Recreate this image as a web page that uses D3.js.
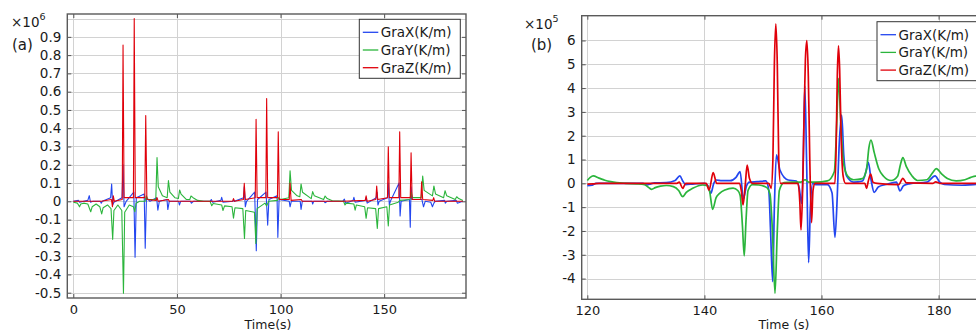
<!DOCTYPE html>
<html><head><meta charset="utf-8">
<script src="https://cdn.jsdelivr.net/npm/d3@7"></script>
<style>
body{margin:0;background:#fff}
svg{display:block}
text{font-family:"DejaVu Sans",sans-serif;fill:#1a1a1a}
</style>
</head><body>
<svg id="c" width="976" height="332"></svg>
<script>
// ---------- DATA : panel (a), values x1e6 ----------
const seriesNames = ["GraX(K/m)", "GraY(K/m)", "GraZ(K/m)"];
const aTicksX = [0, 50, 100, 150];
const aTicksY = [-0.5,-0.4,-0.3,-0.2,-0.1,0,0.1,0.2,0.3,0.4,0.5,0.6,0.7,0.8,0.9];
const aGridY = [1.0];
const aGraX = [[0,0],[2.5,0.005],[3,-0.005],[7,0.005],[7.7,0.031],[8.3,-0.005],[9.5,0],[13,0],[13.5,-0.01],[14,0],
 [18,0.02],[18.5,0.095],[19,-0.02],[19.6,-0.005],[23.5,0.02],[24,0.2],[24.5,-0.03],[25.5,0],[29.2,0.05],[29.8,-0.306],
 [30.4,0.02],[34.2,0.04],[34.7,-0.257],[35.3,0.02],[37,0],[40.2,0.02],[40.8,-0.048],[41.5,0],[45.2,0.01],[45.6,-0.045],
 [46.3,0],[50.8,0],[51.2,-0.02],[51.8,0],[56.5,0],[57,-0.01],[58,0],[66,0],[66.6,0.01],[67.2,-0.005],[71.2,0.005],
 [71.6,0.022],[72.2,-0.005],[77,0],[77.3,0.01],[77.7,0],[82.2,0.02],[82.5,0.08],[83,-0.03],[83.6,0],[87.5,0.05],[88.3,-0.27],
 [88.9,0.01],[93,0.05],[93.8,-0.13],[94.4,0.01],[98.3,0.03],[98.7,-0.197],[99.3,0.01],[104.2,0],[104.6,-0.03],[105.2,0],
 [109.5,0],[109.9,-0.044],[110.5,0],[115.2,0],[115.5,-0.015],[116,0],[121,0],[121.5,-0.008],[122.5,0],[130,0],
 [130.8,0.012],[131.4,-0.01],[135,0.005],[135.4,0.022],[136,-0.005],[140.8,0.005],[141.3,0.02],[141.8,-0.01],
 [146.2,0.02],[146.6,0.05],[147,-0.02],[147.6,0],[151.6,0.02],[152,0.1],[152.5,-0.02],[153,0],[157.2,0.1],[157.7,-0.08],
 [158.2,0],[162.2,0.01],[162.6,-0.142],[163,0.08],[163.5,0.01],[168.2,0.01],[169,-0.03],[169.8,0],[172.5,-0.005],
 [173.3,-0.03],[174,-0.01],[174.6,0],[179.2,0.005],[179.5,-0.01],[180.2,0],[184.8,0.005],[185.3,-0.01],[188,0]];
const aGraY = [[0,-0.005],[2,-0.01],[3,-0.03],[3.6,-0.015],[5,-0.01],[7,-0.015],[8.4,-0.057],[9.1,-0.03],[11,-0.015],
 [12.8,-0.03],[13.7,-0.069],[14.4,-0.035],[16.5,-0.02],[18.2,-0.04],[19,-0.208],[19.6,-0.05],[21.5,-0.02],[23.4,-0.05],
 [24.2,-0.503],[24.8,-0.06],[27,-0.02],[29,-0.03],[29.7,-0.057],[30.3,-0.01],[32,0],[34.6,0],[35.2,0.03],[36,0.01],
 [39.8,0.01],[40.4,0.24],[41,0.08],[43,0.03],[45.3,0.02],[45.9,0.113],[46.6,0.05],[49,0.02],[50.7,0.015],[51.3,0.062],
 [52,0.04],[54.5,0.01],[56.2,0.01],[56.8,0.029],[57.8,0.02],[60,0.005],[63,0],[66,0],[66.8,-0.024],[67.5,-0.012],
 [71.6,-0.02],[72.2,-0.05],[73,-0.025],[76.6,-0.03],[77.3,-0.092],[78,-0.035],[81.8,-0.04],[82.6,-0.203],[83.2,-0.05],
 [87.4,-0.06],[88.1,-0.23],[88.7,-0.04],[92.5,-0.01],[93.3,-0.025],[94.3,0],[98.5,0.005],[99,0.02],[100,0.01],[104,0.02],
 [104.6,0.167],[105.3,0.06],[108,0.03],[109.3,0.025],[109.9,0.095],[110.6,0.05],[114.8,0.015],[115.5,0.053],[116.3,0.03],
 [120.8,0.01],[121.5,0.029],[122.5,0.015],[125,0.003],[130.4,0],[131.1,-0.02],[131.8,-0.01],[135.4,-0.015],[136,-0.048],
 [136.6,-0.02],[140.6,-0.03],[141.3,-0.093],[142,-0.035],[145.9,-0.04],[146.7,-0.148],[147.3,-0.04],[151.3,-0.03],
 [152,-0.135],[152.6,-0.02],[156.8,-0.005],[157.5,0.005],[162.5,0.01],[163,0.05],[163.6,0.02],[167.9,0.02],[168.6,0.138],
 [169.3,0.06],[173.3,0.03],[174,0.084],[174.8,0.04],[178.7,0.02],[179.4,0.058],[180.2,0.03],[184.3,0.01],[185,0.025],
 [186,0.015],[188,0.005]];
const aGraZ = [[0,0],[13.5,0],[18.4,0.01],[18.9,-0.03],[19.3,0.03],[19.8,0],[23.6,0.01],[24,0.855],[24.5,0.02],[29,0.02],
 [29.4,1.0],[29.9,0.02],[34.5,0.02],[34.95,0.47],[35.5,0.01],[40,0.005],[40.4,0.02],[41,0],[45.9,0.01],[46.3,0],[66.5,0],
 [76.9,0],[77.3,0.015],[77.8,0],[82.1,0.01],[82.5,0.098],[83,0.01],[87.8,0.02],[88.2,0.449],[88.7,0.02],[92.9,0.02],
 [93.3,0.563],[93.8,0.02],[98.5,0.02],[98.9,0.381],[99.4,0.01],[104.2,0.01],[104.6,0.1],[105.1,0.005],[110,0.01],
 [110.5,0],[130,0],[140.9,0.005],[141.3,0.03],[141.8,0],[146,0.01],[146.4,0.084],[146.9,0.01],[151.6,0.02],[152,0.299],
 [152.5,0.02],[157.1,0.02],[157.5,0.381],[158,0.02],[162.6,0.02],[163,0.266],[163.5,0.01],[167.7,0.01],[168.1,0.107],
 [168.6,0.01],[173.5,0.005],[173.9,0.02],[174.4,0],[188,0]];

// ---------- DATA : panel (b), values x1e5 ----------
const bTicksX = [120, 140, 160, 180];
const bTicksY = [-4,-3,-2,-1,0,1,2,3,4,5,6];
const bGraX = [[120,-0.1],[120.8,-0.08],[121.5,0],[129.5,0],[130.2,-0.07],[130.8,-0.02],[131.5,0.02],[133.5,0.03],
 [135,0.12],[135.8,0.31],[136.3,0.1],[136.8,-0.05],[138,-0.03],[140,0],[140.6,-0.1],[141.1,-0.42],[141.6,0],[142,0.14],
 [143,0.11],[144.4,0.11],[145.4,0.25],[146.1,0.49],[146.65,-0.65],[147.2,-0.1],[147.7,0.05],[149,0.07],[150.5,0.1],
 [151,-0.3],[151.3,-2.0],[151.66,-4.13],[151.95,-1.0],[152.3,1.2],[152.9,0.56],[154.3,0.14],[155.7,0.1],[156.2,-0.2],
 [156.6,-0.84],[156.85,0.5],[157.15,4.1],[157.45,1.0],[157.8,-3.33],[158.1,-1.0],[158.5,0],[159,-0.05],[161,-0.05],
 [161.8,-0.4],[162.3,-2.27],[162.7,-0.5],[163,1.5],[163.45,2.87],[163.8,1.2],[164.3,0.3],[165.5,0.05],[167,0.1],
 [167.6,0.5],[168,0.88],[168.5,0.1],[169,-0.38],[169.7,-0.15],[171,-0.05],[172.8,0.05],[173.4,-0.32],[174,-0.1],
 [175,-0.02],[178,0.05],[179.4,0.31],[180.2,0.05],[181,-0.05],[184,-0.08],[186,-0.05],[188.5,-0.02]];
const bGraY = [[120,0.12],[120.5,0.25],[121,0.31],[122,0.22],[123,0.13],[124,0.07],[125,0.03],[126.5,0],[128.5,-0.02],
 [129.8,-0.06],[130.5,-0.18],[131,-0.25],[131.6,-0.18],[132.5,-0.12],[133.5,-0.09],[134.7,-0.14],[135.6,-0.3],
 [136.3,-0.56],[136.9,-0.38],[138,-0.21],[139.7,-0.07],[140.5,-0.1],[140.9,-0.35],[141.4,-1.09],[142,-0.6],[142.6,-0.42],
 [143.5,-0.28],[144.9,-0.2],[145.7,-0.3],[146.1,-0.5],[146.5,-1.8],[146.8,-3.05],[147.1,-1.6],[147.45,-0.3],
 [148.2,-0.05],[149.3,-0.07],[150.6,-0.17],[151.2,-0.45],[151.6,-1.9],[152.06,-4.62],[152.45,-2.0],[152.8,-0.3],
 [153.6,0.03],[155,0.05],[156.5,0.05],[157.2,0.15],[157.8,0.05],[159,0.05],[161,0.1],[162.2,0.5],[162.6,2.5],[162.9,4.41],
 [163.3,2.5],[163.8,0.8],[164.5,0.3],[165.5,0.15],[167,0.2],[167.7,0.6],[168.1,1.5],[168.45,1.82],[169,1.3],[169.8,0.6],
 [170.6,0.3],[171.9,0.12],[173,0.3],[173.5,0.8],[173.9,1.08],[174.5,0.7],[175.5,0.3],[176.4,0.12],[178,0.15],[179,0.45],
 [179.6,0.62],[180.5,0.4],[181.5,0.2],[183,0.1],[184.5,0.15],[185.5,0.25],[186.3,0.3],[187.5,0.2],[188.5,0.1]];
const bGraZ = [[120,-0.03],[121,-0.02],[122,0],[135.3,0],[135.7,0.05],[136.3,-0.21],[136.8,0],[140.3,0],[140.8,-0.28],
 [141.5,0.45],[142.1,0],[146,0],[146.3,-0.3],[146.6,-0.91],[147,0],[147.3,0.77],[147.7,0.2],[148.2,0],[151,0],
 [151.4,-0.21],[151.7,1.0],[151.95,5.0],[152.2,6.7],[152.45,5.0],[152.7,1.0],[153,0],[156,0],[156.3,-0.8],[156.5,-1.96],
 [156.75,-0.5],[157,2.5],[157.25,5.2],[157.5,5.99],[157.75,4.5],[158,1.0],[158.3,-1.65],[158.55,-0.3],[158.9,0],
 [162.3,0],[162.5,1.5],[162.7,4.5],[162.9,5.77],[163.1,4.8],[163.35,2.0],[163.7,0.3],[164.1,0],[167.4,0],[167.7,-0.21],
 [168,0.1],[168.4,0.39],[168.8,0.05],[169.5,0],[173.2,-0.05],[173.9,0.21],[174.5,0.02],[179,0],[179.5,0.06],[180.2,0],
 [188.5,0]];

const colors = ["#2346f0", "#2bb53c", "#e0000a"];

// ---------- DRAW ----------
const svg = d3.select("#c");

function drawPanel(cfg) {
  const g = svg.append("g");
  const x = d3.scaleLinear().domain(cfg.xDomain).range([cfg.left, cfg.right]);
  const y = d3.scaleLinear().domain(cfg.yDomain).range([cfg.bottom, cfg.top]);
  const clipId = "clip" + cfg.id;
  svg.append("clipPath").attr("id", clipId).append("rect")
    .attr("x", cfg.left).attr("y", cfg.top).attr("width", cfg.right - cfg.left).attr("height", cfg.bottom - cfg.top);

  // grid
  g.append("g").selectAll("line").data(cfg.ticksY.concat(cfg.gridY || [])).join("line")
    .attr("x1", cfg.left).attr("x2", cfg.right).attr("y1", d => Math.round(y(d)) + 0.5).attr("y2", d => Math.round(y(d)) + 0.5)
    .attr("stroke", "#d2d2d2").attr("stroke-width", 1);
  g.append("g").selectAll("line").data(cfg.ticksX).join("line")
    .attr("y1", cfg.top).attr("y2", cfg.bottom).attr("x1", d => Math.round(x(d)) + 0.5).attr("x2", d => Math.round(x(d)) + 0.5)
    .attr("stroke", "#d2d2d2").attr("stroke-width", 1);

  // axes (ticks inward, labels via d3 axis)
  const yAxis = d3.axisLeft(y).tickValues(cfg.ticksY).tickSize(-4).tickPadding(6).tickFormat(cfg.fmtY);
  const xAxis = d3.axisBottom(x).tickValues(cfg.ticksX).tickSize(-4).tickPadding(8).tickFormat(d3.format("d"));
  const ya = g.append("g").attr("transform", `translate(${cfg.left},0)`).call(yAxis);
  const xa = g.append("g").attr("transform", `translate(0,${cfg.bottom})`).call(xAxis);
  g.append("g").attr("transform", `translate(${cfg.right},0)`).call(d3.axisRight(y).tickValues(cfg.ticksY).tickSize(-4).tickFormat(""));
  g.append("g").attr("transform", `translate(0,${cfg.top})`).call(d3.axisTop(x).tickValues(cfg.ticksX).tickSize(-4).tickFormat(""));
  g.selectAll(".domain").remove();
  g.selectAll(".tick line").attr("stroke", "#555");
  ya.selectAll("text").attr("font-size", 13.5).attr("font-family", "DejaVu Sans").attr("fill", "#1a1a1a");
  xa.selectAll("text").attr("font-size", 13).attr("font-family", "DejaVu Sans").attr("fill", "#1a1a1a")
    .attr("dy", null).attr("y", 16);

  // frame
  g.append("rect").attr("x", cfg.left).attr("y", cfg.top).attr("width", cfg.right - cfg.left).attr("height", cfg.bottom - cfg.top)
    .attr("fill", "none").attr("stroke", "#5a5a5a").attr("stroke-width", 1.4);

  // lines
  const line = d3.line().x(d => x(d[0])).y(d => y(d[1])).curve(cfg.curve);
  const lg = g.append("g").attr("clip-path", `url(#${clipId})`);
  cfg.series.forEach((s, i) => {
    lg.append("path").datum(s).attr("d", line).attr("fill", "none")
      .attr("stroke", colors[i]).attr("stroke-width", cfg.lw).attr("stroke-linejoin", "round");
  });

  // exponent & panel label
  const ex = g.append("text").attr("x", cfg.expX).attr("y", cfg.expY).attr("font-size", 13.5);
  ex.append("tspan").text("×10");
  ex.append("tspan").attr("dy", -7).attr("font-size", 9.5).text(cfg.exp);
  g.append("text").attr("x", cfg.labX).attr("y", cfg.labY).attr("font-size", 15).text(cfg.label);

  // x title
  g.append("text").attr("x", cfg.titleX).attr("y", 328.8).attr("text-anchor", "middle").attr("font-size", 12.5).text(cfg.xTitle);

  // legend
  const L = g.append("g");
  L.append("rect").attr("x", cfg.legX).attr("y", cfg.legY).attr("width", 101).attr("height", 59)
    .attr("fill", "#fff").attr("stroke", "#333").attr("stroke-width", 1);
  seriesNames.forEach((n, i) => {
    const yy = cfg.legY + 13 + i * 17.7;
    L.append("line").attr("x1", cfg.legX + 3.5).attr("x2", cfg.legX + 19).attr("y1", yy).attr("y2", yy)
      .attr("stroke", colors[i]).attr("stroke-width", 1.3);
    L.append("text").attr("x", cfg.legX + 21.5).attr("y", yy).attr("dy", "0.36em").attr("font-size", 13.5).text(n);
  });
}

drawPanel({
  id: "a", left: 67.3, right: 466, top: 14, bottom: 298,
  xDomain: [-2.9, 189.5], yDomain: [-0.529, 1.025],
  ticksX: aTicksX, ticksY: aTicksY, gridY: aGridY,
  fmtY: d => (d === 0 ? "0" : d3.format(".1f")(d).replace("−", "-")),
  series: [aGraX, aGraY, aGraZ], curve: d3.curveLinear, lw: 1.1,
  exp: "6", expX: 11, expY: 27, label: "(a)", labX: 12, labY: 50,
  xTitle: "Time(s)", titleX: 268, legX: 359.3, legY: 19.3
});

drawPanel({
  id: "b", left: 581.7, right: 986, top: 15.7, bottom: 299.3,
  xDomain: [119.04, 188.1], yDomain: [-4.87, 7.04],
  ticksX: bTicksX, ticksY: bTicksY, gridY: [],
  fmtY: d => String(d).replace("−", "-"),
  series: [bGraX, bGraY, bGraZ], curve: d3.curveMonotoneX, lw: 1.7,
  exp: "5", expX: 524, expY: 29, label: "(b)", labX: 531, labY: 50,
  xTitle: "Time (s)", titleX: 784, legX: 877, legY: 21.7
});
</script>
</body></html>
